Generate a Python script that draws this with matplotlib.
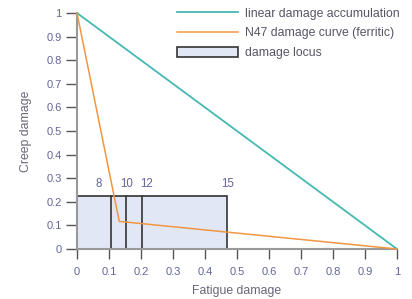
import matplotlib
matplotlib.use("Agg")
import matplotlib.pyplot as plt
from matplotlib.patches import Rectangle

plt.rcParams['font.family'] = ['Liberation Sans', 'DejaVu Sans']

# Data
linear_x = [0, 1]
linear_y = [1, 0]
n47_x = [0, 0.132, 1]
n47_y = [1, 0.117, 0]
locus_w = 0.47
locus_h = 0.226
locus_lines = [0.105, 0.153, 0.202]
locus_labels = ["8", "10", "12", "15"]
locus_label_x = [0.069, 0.155, 0.218, 0.47]
ticks = [0, 0.1, 0.2, 0.3, 0.4, 0.5, 0.6, 0.7, 0.8, 0.9, 1]
tick_labels = ["0", "0.1", "0.2", "0.3", "0.4", "0.5", "0.6", "0.7", "0.8", "0.9", "1"]

teal = "#45b8b2"
orange = "#f29544"
fill = "#e1e7f5"
edge = "#333333"
axis_col = "#999999"
lab_col = "#62659a"

fig = plt.figure(figsize=(4.12, 2.99), dpi=100)
ax = fig.add_axes([77/412, 50/299, 320/412, 236/299])

rect = Rectangle((0, 0), locus_w, locus_h, facecolor=fill, edgecolor=edge,
                 linewidth=1.2, label="damage locus", zorder=1)
ax.add_patch(rect)
for xv in locus_lines:
    ax.plot([xv, xv], [0, locus_h], color=edge, lw=1.2, zorder=2)
for xl, t in zip(locus_label_x, locus_labels):
    ax.text(xl, locus_h + 0.022, t, ha="center", va="bottom", fontsize=8.3, color=lab_col)

ax.plot(linear_x, linear_y, color=teal, lw=1.3, label="linear damage accumulation",
        clip_on=False, zorder=3)
ax.plot(n47_x, n47_y, color=orange, lw=1.1, label="N47 damage curve (ferritic)",
        clip_on=False, zorder=3)

ax.set_xlim(0, 1)
ax.set_ylim(0, 1)
ax.set_xticks(ticks)
ax.set_xticklabels(tick_labels)
ax.set_yticks(ticks)
ax.set_yticklabels(tick_labels)
for s in ["top", "right"]:
    ax.spines[s].set_visible(False)
for s in ["left", "bottom"]:
    ax.spines[s].set_color(axis_col)
    ax.spines[s].set_linewidth(1.5)
ax.tick_params(axis="y", length=8, width=1, color="#555555", labelsize=8,
               labelcolor=lab_col, pad=3)
ax.tick_params(axis="x", length=7, width=1, color="#555555", labelsize=8,
               labelcolor=lab_col, pad=6)
ax.set_xlabel("Fatigue damage", fontsize=8.8, color="#666677", labelpad=6)
ax.set_ylabel("Creep damage", fontsize=8.8, color="#666677", labelpad=10)

handles, labels = ax.get_legend_handles_labels()
order = [1, 2, 0]
leg = ax.legend([handles[i] for i in order], [labels[i] for i in order],
                loc="upper left", bbox_to_anchor=(0.3125, 1.022), frameon=False,
                fontsize=8.8, handlelength=5.0, handleheight=0.9,
                handletextpad=0.57, labelspacing=0.58,
                borderpad=0, borderaxespad=0)
for t in leg.get_texts():
    t.set_color("#555566")

fig.savefig("out.png", dpi=100)
